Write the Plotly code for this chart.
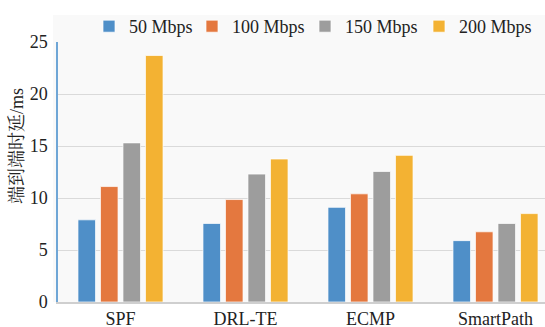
import plotly.graph_objects as go

categories = ["SPF", "DRL-TE", "ECMP", "SmartPath"]
series_names = ["50 Mbps", "100 Mbps", "150 Mbps", "200 Mbps"]
v50 = [7.9, 7.55, 9.1, 5.9]
v100 = [11.1, 9.85, 10.4, 6.75]
v150 = [15.3, 12.3, 12.55, 7.55]
v200 = [23.7, 13.75, 14.1, 8.5]
colors = ["#4F8FC8", "#E4783F", "#9D9D9D", "#F3B233"]
legend_ids = ["legend", "legend2", "legend3", "legend4"]
y_ticks = [0, 5, 10, 15, 20, 25]

W, H = 545, 327
L, R, T, B = 58, 0, 42, 25

fig = go.Figure()
for name, vals, c, lg in zip(series_names, [v50, v100, v150, v200], colors, legend_ids):
    fig.add_trace(go.Bar(
        x=categories, y=vals, name=name, legend=lg,
        marker=dict(color=c, line=dict(color="rgba(255,255,255,0.7)", width=1)),
    ))

pw = W - L - R
ph = H - T - B
serif = "Liberation Serif, Times New Roman, serif"
leg_y = (H - B - 26.5) / ph
legend_square_px = [102, 205, 318, 432]

legends = {}
for lg, sx in zip(legend_ids, legend_square_px):
    legends[lg] = dict(
        orientation="h",
        x=(sx - 13 - L) / pw, xanchor="left",
        y=leg_y, yanchor="middle",
        font=dict(family=serif, size=18, color="#222222"),
        bgcolor="rgba(0,0,0,0)",
    )

fig.update_layout(
    width=W, height=H,
    margin=dict(l=L, r=R, t=T, b=B, pad=0, autoexpand=False),
    paper_bgcolor="white",
    plot_bgcolor="#F9F9F9",
    barmode="group",
    bargap=0.28,
    bargroupgap=0.22,
    font=dict(family=serif, size=18, color="#222222"),
    showlegend=True,
    xaxis=dict(
        range=[-0.5, -0.5 + pw / 125.0],
        showgrid=False,
        showline=True, linecolor="#CFCFCF", linewidth=1.5,
        ticks="", ticklen=0,
        tickfont=dict(family=serif, size=18, color="#222222"),
        automargin=False,
        fixedrange=True,
    ),
    yaxis=dict(
        range=[0, 25],
        tickvals=y_ticks,
        showgrid=True, gridcolor="#DADADA", gridwidth=1,
        zeroline=False,
        showline=True, linecolor="#6FA6D6", linewidth=1.5,
        ticks="outside", ticklen=5, tickcolor="rgba(0,0,0,0)",
        tickfont=dict(family=serif, size=18, color="#222222"),
        automargin=False,
        fixedrange=True,
    ),
    shapes=[dict(
        type="rect", xref="paper", yref="paper", layer="below",
        x0=(53 - L) / pw, x1=1.0, y0=0, y1=(H - B - 15) / ph,
        fillcolor="#F9F9F9", line=dict(width=0),
    )],
    annotations=[dict(
        text="端到端时延/ms",
        xref="paper", yref="paper",
        x=(17 - L) / pw, y=(H - B - 146) / ph,
        xanchor="center", yanchor="middle",
        textangle=-90, showarrow=False,
        font=dict(family="Liberation Serif, Noto Serif CJK SC, Noto Sans CJK SC", size=18, color="#222222"),
    )],
    **legends,
)

fig.write_html(
    "out.html",
    config={"displayModeBar": False},
    post_script="document.body.style.margin='0';document.body.style.padding='0';",
)
